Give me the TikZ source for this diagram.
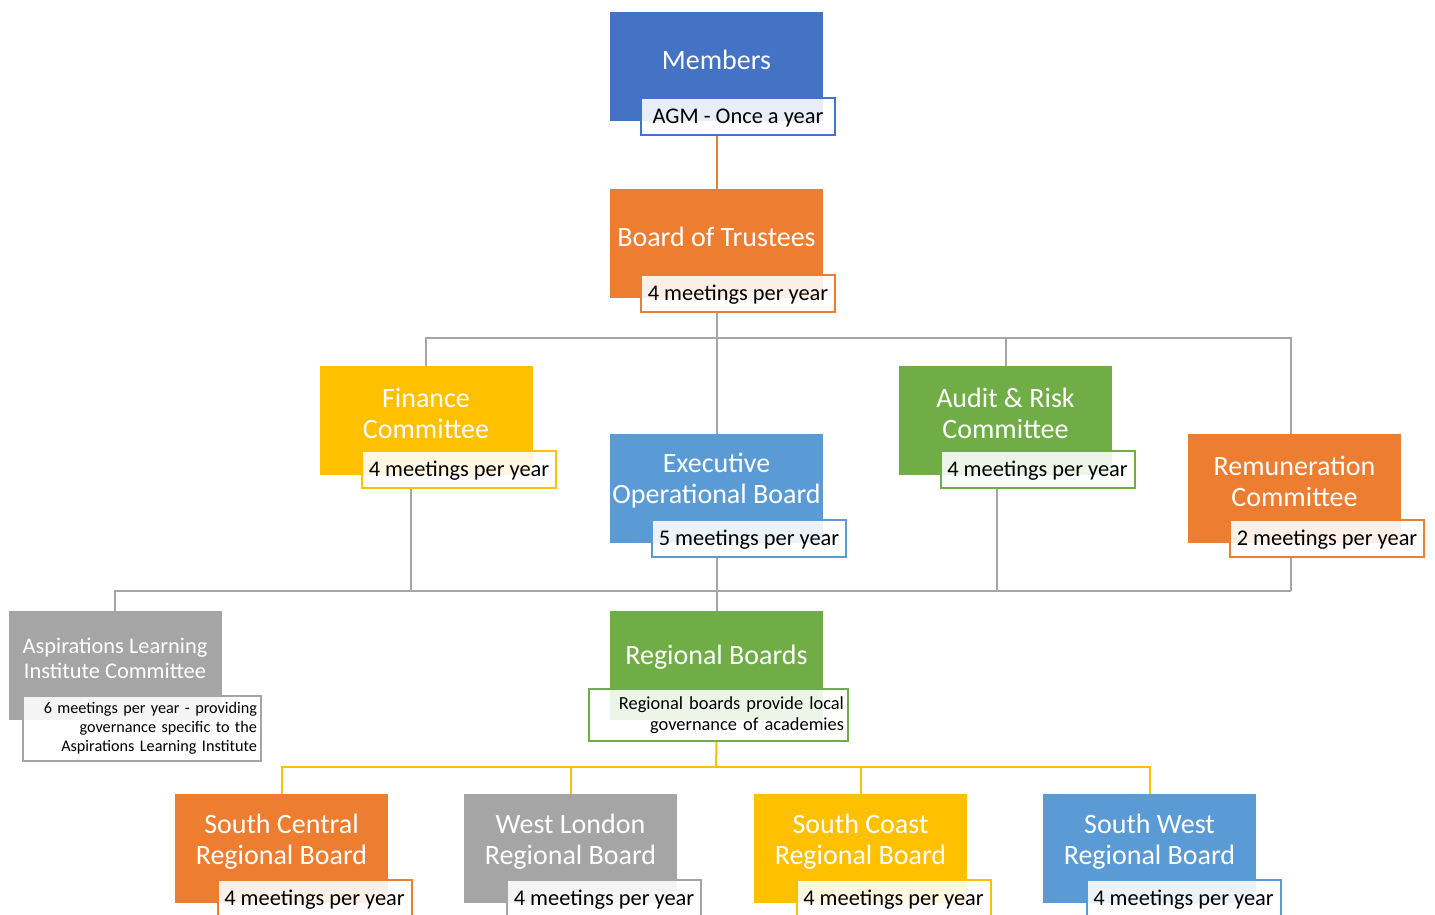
\documentclass[tikz,border=0pt]{standalone}
\usepackage{fontspec}
\setmainfont{Carlito}
\definecolor{cBlue}{HTML}{4472C4}
\definecolor{cOrange}{HTML}{ED7D31}
\definecolor{cYellow}{HTML}{FFC000}
\definecolor{cGreen}{HTML}{70AD47}
\definecolor{cLBlue}{HTML}{5B9BD5}
\definecolor{cGray}{HTML}{A5A5A5}
\definecolor{cLine}{HTML}{A6A6A6}
\begin{document}
\begin{tikzpicture}[x=0.5pt,y=-0.5pt,
  box/.style={minimum width=106.5pt, minimum height=54.5pt, inner sep=0pt, draw=none, fill=#1},
  ttl/.style={text=white, align=center, inner sep=0pt, font=\fontsize{14}{15.5}\selectfont},
  lab/.style={draw=#1, line width=1pt, fill=white, fill opacity=0.88, text opacity=1,
    minimum width=97pt, minimum height=18.5pt, inner sep=0pt, font=\fontsize{11.2}{12}\selectfont},
  lab1/.style={lab=#1, text height=9.5pt, text depth=2.4pt},
  conn/.style={draw=cLine, line width=1pt},
]
\pgfdeclarelayer{bg}\pgfsetlayers{bg,main}
\useasboundingbox (0,0) rectangle (1435,915);
\clip (0,0) rectangle (1435,915);

% coordinates for buses
\coordinate (b1) at (716,338);
\coordinate (b2) at (716,591);
\coordinate (b3) at (716,767);
\coordinate (fdrop) at (411,591);
\coordinate (adrop) at (997,591);
\coordinate (rdrop) at (1291,591);

% boxes
\node[box=cBlue]   (mem) at (716.5,67)   {};
\node[box=cOrange] (bot) at (716.5,243.5) {};
\node[box=cYellow] (fin) at (426,420.5)  {};
\node[box=cGreen]  (aud) at (1005.5,420.5) {};
\node[box=cLBlue]  (ex)  at (716.5,488.5) {};
\node[box=cOrange] (rem) at (1294.5,488.5) {};
\node[box=cGray]   (ali) at (115,665.5) {};
\node[box=cGreen]  (rb)  at (716.5,665.5) {};
\node[box=cOrange] (sc)  at (281.5,848.5) {};
\node[box=cGray]   (wl)  at (570.5,848.5) {};
\node[box=cYellow] (sco) at (860.5,848.5) {};
\node[box=cLBlue]  (sw)  at (1149.5,848.5) {};

% titles
\node[ttl] (memT) at (716.5,59.5) {Members};
\node[ttl] (botT) at (716.5,236.5) {Board of Trustees};
\node[ttl] (finT) at (426,413) {Finance\\Committee};
\node[ttl] (audT) at (1005.5,413) {Audit \& Risk\\Committee};
\node[ttl] (exT)  at (716.5,481) {Executive\\Operational Board};
\node[ttl] (remT) at (1294.5,481) {Remuneration\\Committee};
\node[ttl,font=\fontsize{11.2}{12.5}\selectfont] (aliT) at (115,658) {Aspirations Learning\\Institute Committee};
\node[ttl] (rbT)  at (716.5,657.5) {Regional Boards};
\node[ttl] (scT)  at (281.5,842) {South Central\\Regional Board};
\node[ttl] (wlT)  at (570.5,842) {West London\\Regional Board};
\node[ttl] (scoT) at (860.5,842) {South Coast\\Regional Board};
\node[ttl] (swT)  at (1149.5,842) {South West\\Regional Board};

% labels
\node[lab1=cBlue]   (memL) at (738,116.5) {AGM - Once a year};
\node[lab1=cOrange] (botL) at (738,293.5) {4 meetings per year};
\node[lab1=cYellow] (finL) at (459,469.5) {4 meetings per year};
\node[lab1=cGreen]  (audL) at (1037.5,469.5) {4 meetings per year};
\node[lab1=cLBlue]  (exL)  at (749,538.5) {5 meetings per year};
\node[lab1=cOrange] (remL) at (1327,538.5) {2 meetings per year};
\node[lab=cGray, minimum width=119pt, minimum height=32.5pt, text width=115pt, align=right,
      font=\fontsize{8.1}{9.5}\selectfont] (aliL) at (142,728.5)
      {6 meetings per year - providing\\governance specific to the\\Aspirations Learning Institute};
\node[lab=cGreen, minimum width=129.5pt, minimum height=26pt, text width=125.5pt, align=right,
      font=\fontsize{9.2}{10.5}\selectfont] (rbL) at (718.5,715)
      {Regional boards provide local\\governance of academies};
\node[lab1=cOrange] (scL)  at (314.5,898.5) {4 meetings per year};
\node[lab1=cGray]   (wlL)  at (604,898.5) {4 meetings per year};
\node[lab1=cYellow] (scoL) at (893.5,898.5) {4 meetings per year};
\node[lab1=cLBlue]  (swL)  at (1183.5,898.5) {4 meetings per year};

% connectors (behind)
\begin{pgfonlayer}{bg}
\draw[draw=cOrange, line width=1pt] (memL.south -| mem.south) -- (bot.north);
\draw[conn] (botL.south -| bot.south) -- (ex.north);
\draw[conn] (fin.north) -- (fin.north |- b1) -- (rdrop |- b1) -- (rdrop |- rem.north);
\draw[conn] (aud.north) -- (aud.north |- b1);
\draw[conn] (finL.south -| fdrop) -- (fdrop);
\draw[conn] (audL.south -| adrop) -- (adrop);
\draw[conn] (remL.south -| rdrop) -- (rdrop);
\draw[conn] (exL.south -| ex.south) -- (rb.north);
\draw[conn] (ali.north) -- (ali.north |- b2) -- (rdrop);
\draw[draw=cYellow, line width=1pt] (rbL.south -| rb.south) -- (b3);
\draw[draw=cYellow, line width=1pt] (sc.north) -- (sc.north |- b3) -- (sw.north |- b3) -- (sw.north);
\draw[draw=cYellow, line width=1pt] (wl.north) -- (wl.north |- b3);
\draw[draw=cYellow, line width=1pt] (sco.north) -- (sco.north |- b3);
\end{pgfonlayer}
\end{tikzpicture}
\end{document}
